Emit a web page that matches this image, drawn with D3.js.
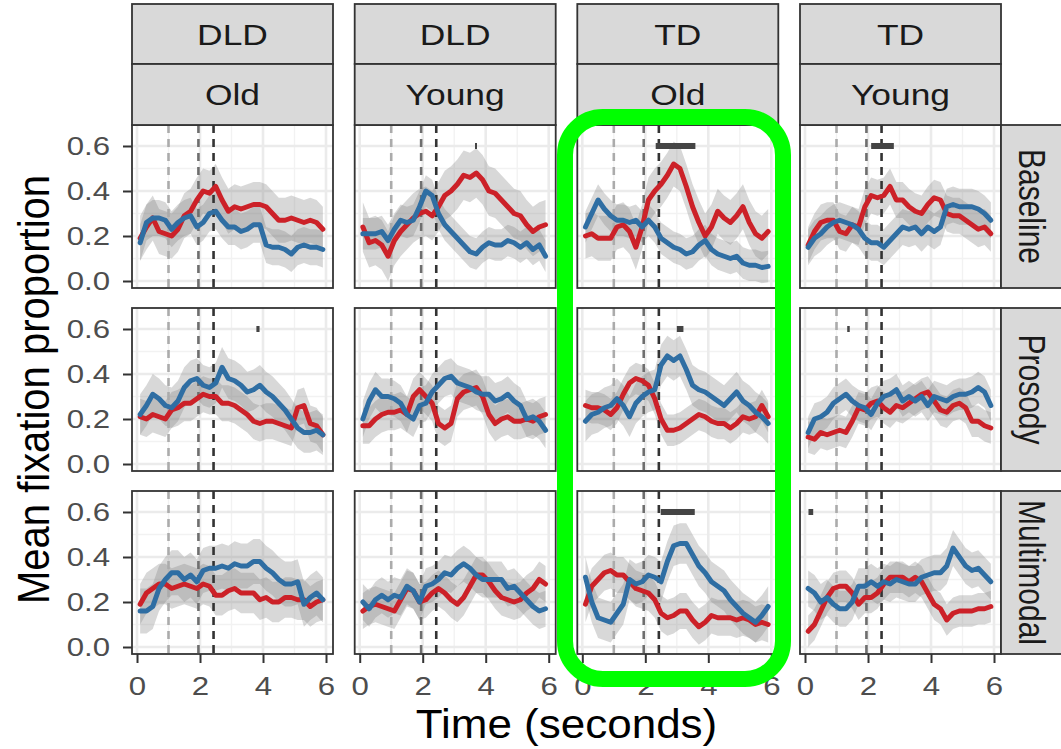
<!DOCTYPE html>
<html>
<head>
<meta charset="utf-8">
<script src="https://cdn.jsdelivr.net/npm/d3@7"></script>
<style>
  body { margin: 0; background: #fff; }
  text { font-family: "Liberation Sans", Arial, Helvetica, sans-serif; }
</style>
</head>
<body>
<div id="chart"></div>
<script>
// facets
const groups = ["DLD", "DLD", "TD", "TD"];
const ages = ["Old", "Young", "Old", "Young"];
const conditions = ["Baseline", "Prosody", "Multimodal"];

const times = [0.1, 0.3, 0.5, 0.7, 0.9, 1.1, 1.3, 1.5, 1.7, 1.9, 2.1, 2.3, 2.5, 2.7, 2.9,
               3.1, 3.3, 3.5, 3.7, 3.9, 4.1, 4.3, 4.5, 4.7, 4.9, 5.1, 5.3, 5.5, 5.7, 5.9];

const xTicks = [0, 2, 4, 6];
const yTicks = [0, 0.2, 0.4, 0.6];
const eventTimes = [1.0, 1.95, 2.43];

// Baseline
const dldOldBaselineRed = [0.19,0.24,0.28,0.22,0.21,0.20,0.23,0.29,0.31,0.36,0.40,0.39,0.42,0.36,0.31,0.33,0.32,0.33,0.34,0.34,0.33,0.30,0.27,0.27,0.28,0.27,0.26,0.27,0.26,0.23];
const dldOldBaselineBlue = [0.17,0.26,0.28,0.28,0.27,0.23,0.26,0.28,0.29,0.24,0.26,0.30,0.31,0.27,0.24,0.24,0.22,0.23,0.25,0.25,0.16,0.15,0.15,0.14,0.12,0.15,0.16,0.15,0.15,0.14];
const dldYoungBaselineRed = [0.24,0.17,0.18,0.16,0.11,0.18,0.22,0.25,0.28,0.30,0.31,0.29,0.33,0.38,0.40,0.43,0.47,0.46,0.48,0.45,0.40,0.39,0.36,0.33,0.30,0.29,0.25,0.22,0.24,0.25];
const dldYoungBaselineBlue = [0.21,0.21,0.21,0.22,0.18,0.23,0.27,0.26,0.27,0.33,0.40,0.38,0.30,0.25,0.22,0.19,0.16,0.13,0.12,0.15,0.17,0.16,0.16,0.18,0.17,0.15,0.17,0.14,0.16,0.11];
const tdOldBaselineRed = [0.20,0.21,0.19,0.19,0.19,0.24,0.25,0.22,0.15,0.24,0.36,0.40,0.43,0.47,0.52,0.50,0.42,0.33,0.26,0.20,0.24,0.31,0.28,0.26,0.29,0.33,0.26,0.21,0.19,0.22];
const tdOldBaselineBlue = [0.24,0.30,0.36,0.32,0.29,0.27,0.27,0.26,0.27,0.24,0.27,0.24,0.19,0.17,0.15,0.14,0.12,0.13,0.16,0.18,0.14,0.12,0.11,0.10,0.11,0.08,0.07,0.07,0.06,0.065];
const tdYoungBaselineRed = [0.16,0.22,0.26,0.27,0.27,0.22,0.21,0.25,0.24,0.33,0.38,0.37,0.38,0.42,0.36,0.36,0.33,0.31,0.30,0.34,0.37,0.36,0.30,0.29,0.29,0.27,0.25,0.23,0.24,0.21];
const tdYoungBaselineBlue = [0.15,0.19,0.21,0.24,0.26,0.27,0.26,0.25,0.23,0.19,0.17,0.17,0.15,0.18,0.21,0.24,0.23,0.24,0.21,0.24,0.22,0.24,0.33,0.34,0.33,0.33,0.33,0.32,0.30,0.27];

// Prosody
const dldOldProsodyRed = [0.21,0.20,0.22,0.21,0.20,0.24,0.25,0.27,0.27,0.29,0.31,0.30,0.30,0.27,0.27,0.26,0.24,0.22,0.19,0.18,0.19,0.19,0.18,0.17,0.16,0.25,0.26,0.18,0.17,0.13];
const dldOldProsodyBlue = [0.22,0.26,0.31,0.29,0.26,0.25,0.28,0.34,0.37,0.38,0.35,0.34,0.36,0.43,0.38,0.37,0.35,0.32,0.33,0.35,0.32,0.30,0.27,0.24,0.20,0.16,0.14,0.14,0.15,0.13];
const dldYoungProsodyRed = [0.17,0.17,0.20,0.22,0.23,0.23,0.24,0.22,0.30,0.33,0.30,0.27,0.18,0.16,0.18,0.29,0.32,0.33,0.34,0.30,0.22,0.18,0.20,0.21,0.19,0.19,0.20,0.19,0.21,0.22];
const dldYoungProsodyBlue = [0.20,0.28,0.33,0.30,0.30,0.29,0.27,0.22,0.20,0.26,0.27,0.32,0.35,0.38,0.39,0.36,0.35,0.34,0.32,0.31,0.31,0.28,0.29,0.31,0.28,0.26,0.20,0.21,0.19,0.15];
const tdOldProsodyRed = [0.26,0.25,0.25,0.24,0.22,0.25,0.31,0.36,0.38,0.37,0.35,0.29,0.20,0.15,0.15,0.16,0.18,0.20,0.22,0.21,0.19,0.18,0.18,0.16,0.18,0.21,0.20,0.21,0.26,0.21];
const tdOldProsodyBlue = [0.19,0.22,0.23,0.25,0.26,0.29,0.26,0.21,0.27,0.30,0.32,0.33,0.44,0.48,0.46,0.48,0.42,0.35,0.33,0.32,0.30,0.28,0.26,0.29,0.32,0.28,0.26,0.23,0.21,0.18];
const tdYoungProsodyRed = [0.12,0.11,0.14,0.13,0.14,0.15,0.14,0.19,0.25,0.24,0.27,0.28,0.25,0.23,0.26,0.25,0.27,0.29,0.31,0.32,0.28,0.24,0.23,0.26,0.27,0.25,0.19,0.19,0.17,0.16];
const tdYoungProsodyBlue = [0.14,0.20,0.21,0.23,0.27,0.29,0.31,0.28,0.26,0.25,0.22,0.27,0.30,0.31,0.33,0.28,0.30,0.28,0.30,0.26,0.30,0.29,0.28,0.30,0.31,0.31,0.32,0.34,0.32,0.26];

// Multimodal
const dldOldMultiRed = [0.19,0.24,0.26,0.28,0.28,0.26,0.27,0.28,0.27,0.26,0.28,0.27,0.23,0.23,0.25,0.26,0.24,0.24,0.24,0.21,0.22,0.20,0.20,0.22,0.22,0.21,0.21,0.18,0.20,0.21];
const dldOldMultiBlue = [0.16,0.16,0.18,0.26,0.30,0.33,0.33,0.30,0.32,0.29,0.34,0.35,0.35,0.36,0.35,0.37,0.36,0.36,0.38,0.38,0.35,0.33,0.30,0.28,0.28,0.29,0.19,0.22,0.24,0.21];
const dldYoungMultiRed = [0.16,0.18,0.19,0.18,0.17,0.16,0.21,0.26,0.25,0.20,0.21,0.24,0.26,0.24,0.21,0.19,0.22,0.27,0.32,0.32,0.29,0.25,0.22,0.21,0.20,0.21,0.24,0.26,0.30,0.28];
const dldYoungMultiBlue = [0.20,0.17,0.21,0.23,0.21,0.23,0.22,0.27,0.25,0.20,0.27,0.28,0.30,0.33,0.32,0.35,0.37,0.35,0.32,0.30,0.30,0.30,0.30,0.26,0.27,0.24,0.21,0.18,0.16,0.17];
const tdOldMultiRed = [0.19,0.27,0.30,0.33,0.34,0.32,0.32,0.29,0.26,0.25,0.24,0.21,0.15,0.13,0.14,0.16,0.16,0.12,0.09,0.11,0.14,0.13,0.13,0.13,0.12,0.13,0.12,0.10,0.11,0.10];
const tdOldMultiBlue = [0.31,0.20,0.13,0.12,0.11,0.15,0.19,0.30,0.28,0.29,0.32,0.31,0.29,0.38,0.45,0.46,0.46,0.41,0.36,0.33,0.29,0.27,0.25,0.21,0.18,0.15,0.13,0.11,0.14,0.18];
const tdYoungMultiRed = [0.07,0.10,0.16,0.22,0.26,0.27,0.27,0.24,0.19,0.22,0.22,0.24,0.28,0.31,0.31,0.31,0.29,0.31,0.29,0.24,0.19,0.17,0.12,0.15,0.16,0.16,0.16,0.17,0.17,0.18];
const tdYoungMultiBlue = [0.26,0.24,0.20,0.22,0.19,0.17,0.17,0.20,0.27,0.27,0.29,0.27,0.29,0.28,0.30,0.29,0.28,0.28,0.31,0.32,0.33,0.33,0.36,0.44,0.40,0.36,0.34,0.35,0.32,0.29];

// typical standard error of each curve, one per column
const seRedBaseline = [0.10, 0.11, 0.10, 0.08];
const seBlueBaseline = [0.08, 0.07, 0.07, 0.08];
const seRedProsody = [0.08, 0.08, 0.07, 0.07];
const seBlueProsody = [0.09, 0.08, 0.09, 0.07];
const seRedMulti = [0.09, 0.08, 0.08, 0.07];
const seBlueMulti = [0.10, 0.08, 0.09, 0.08];

// significant windows (seconds)
const sigBars = [
  {cond: "Baseline", col: 1, from: 3.66, to: 3.72},
  {cond: "Baseline", col: 2, from: 2.33, to: 3.59},
  {cond: "Baseline", col: 3, from: 2.10, to: 2.82},
  {cond: "Prosody", col: 0, from: 3.79, to: 3.89},
  {cond: "Prosody", col: 2, from: 3.00, to: 3.21},
  {cond: "Prosody", col: 3, from: 1.34, to: 1.42},
  {cond: "Multimodal", col: 2, from: 2.49, to: 3.57},
  {cond: "Multimodal", col: 3, from: 0.11, to: 0.26}
];

const redByCond = {
  Baseline: [dldOldBaselineRed, dldYoungBaselineRed, tdOldBaselineRed, tdYoungBaselineRed],
  Prosody: [dldOldProsodyRed, dldYoungProsodyRed, tdOldProsodyRed, tdYoungProsodyRed],
  Multimodal: [dldOldMultiRed, dldYoungMultiRed, tdOldMultiRed, tdYoungMultiRed]
};
const blueByCond = {
  Baseline: [dldOldBaselineBlue, dldYoungBaselineBlue, tdOldBaselineBlue, tdYoungBaselineBlue],
  Prosody: [dldOldProsodyBlue, dldYoungProsodyBlue, tdOldProsodyBlue, tdYoungProsodyBlue],
  Multimodal: [dldOldMultiBlue, dldYoungMultiBlue, tdOldMultiBlue, tdYoungMultiBlue]
};
const seRedByCond = {Baseline: seRedBaseline, Prosody: seRedProsody, Multimodal: seRedMulti};
const seBlueByCond = {Baseline: seBlueBaseline, Prosody: seBlueProsody, Multimodal: seBlueMulti};

const width = 1061, height = 749;
const colLeft = [132, 354.7, 577.3, 800];
const rowTop = [125, 308, 491];
const panelW = 201, panelH = 163;
const redColor = "#cc2128", blueColor = "#2f6ea3";
const eventColors = ["#ababab", "#6e6e6e", "#333333"];
const widen = 1.2; // the source glyphs are drawn wider than they are tall

const svg = d3.select("#chart")
  .append("svg")
  .attr("width", width)
  .attr("height", height);

const defs = svg.append("defs");

// stretch horizontal text along its baseline
function stretch(sel, f) {
  sel.each(function () {
    const len = this.getComputedTextLength();
    d3.select(this).attr("textLength", len * f).attr("lengthAdjust", "spacingAndGlyphs");
  });
}

function makeX(c) {
  return d3.scaleLinear().domain([-0.159, 6.222]).range([colLeft[c], colLeft[c] + panelW]);
}
function makeY(r) {
  return d3.scaleLinear().domain([-0.0311, 0.6933]).range([rowTop[r] + panelH, rowTop[r]]);
}

conditions.forEach(function (cond, r) {
  const y = makeY(r);
  groups.forEach(function (grp, c) {
    const x = makeX(c);
    const clipId = "clip-" + r + "-" + c;
    defs.append("clipPath").attr("id", clipId)
      .append("rect")
      .attr("x", colLeft[c]).attr("y", rowTop[r])
      .attr("width", panelW).attr("height", panelH);

    const g = svg.append("g").attr("clip-path", "url(#" + clipId + ")");

    // grid
    g.selectAll(".gx-minor").data([1, 3, 5]).enter().append("line")
      .attr("x1", d => x(d)).attr("x2", d => x(d))
      .attr("y1", rowTop[r]).attr("y2", rowTop[r] + panelH)
      .attr("stroke", "#f2f2f2").attr("stroke-width", 1.4);
    g.selectAll(".gy-minor").data([0.1, 0.3, 0.5]).enter().append("line")
      .attr("x1", colLeft[c]).attr("x2", colLeft[c] + panelW)
      .attr("y1", d => y(d)).attr("y2", d => y(d))
      .attr("stroke", "#f2f2f2").attr("stroke-width", 1.4);
    g.selectAll(".gx").data(xTicks).enter().append("line")
      .attr("x1", d => x(d)).attr("x2", d => x(d))
      .attr("y1", rowTop[r]).attr("y2", rowTop[r] + panelH)
      .attr("stroke", "#ebebeb").attr("stroke-width", 2.6);
    g.selectAll(".gy").data(yTicks).enter().append("line")
      .attr("x1", colLeft[c]).attr("x2", colLeft[c] + panelW)
      .attr("y1", d => y(d)).attr("y2", d => y(d))
      .attr("stroke", "#ebebeb").attr("stroke-width", 2.6);

    const red = times.map((t, i) => ({t: t, v: redByCond[cond][c][i], se: seRedByCond[cond][c]}));
    const blue = times.map((t, i) => ({t: t, v: blueByCond[cond][c][i], se: seBlueByCond[cond][c]}));

    const area = d3.area()
      .x(d => x(d.t))
      .y0(d => y(d.v - d.se))
      .y1(d => y(d.v + d.se));
    const line = d3.line()
      .x(d => x(d.t))
      .y(d => y(d.v));

    [red, blue].forEach(function (s) {
      g.append("path").datum(s)
        .attr("d", area)
        .attr("fill", "#7f7f7f")
        .attr("fill-opacity", 0.3);
    });

    // event markers
    g.selectAll(".ev").data(eventTimes).enter().append("line")
      .attr("x1", d => x(d)).attr("x2", d => x(d))
      .attr("y1", rowTop[r]).attr("y2", rowTop[r] + panelH)
      .attr("stroke", (d, i) => eventColors[i])
      .attr("stroke-width", 2.6)
      .attr("stroke-dasharray", "8,6");

    g.append("path").datum(red)
      .attr("d", line)
      .attr("fill", "none").attr("stroke", redColor)
      .attr("stroke-width", 5).attr("stroke-linejoin", "round").attr("stroke-linecap", "round");
    g.append("path").datum(blue)
      .attr("d", line)
      .attr("fill", "none").attr("stroke", blueColor)
      .attr("stroke-width", 5).attr("stroke-linejoin", "round").attr("stroke-linecap", "round");

    // significance windows
    g.selectAll(".sig").data(sigBars.filter(b => b.cond === cond && b.col === c)).enter()
      .append("rect")
      .attr("x", d => x(d.from))
      .attr("width", d => Math.max(2, x(d.to) - x(d.from)))
      .attr("y", y(0.6) - 3)
      .attr("height", 6)
      .attr("fill", "#444");

    // border
    svg.append("rect")
      .attr("x", colLeft[c]).attr("y", rowTop[r])
      .attr("width", panelW).attr("height", panelH)
      .attr("fill", "none").attr("stroke", "#333").attr("stroke-width", 1.8);

    // axes
    if (c === 0) {
      const ax = svg.append("g")
        .attr("transform", "translate(" + colLeft[c] + ",0)")
        .call(d3.axisLeft(y).tickValues(yTicks).tickFormat(d3.format(".1f")).tickSize(9).tickPadding(13));
      ax.select(".domain").remove();
      ax.selectAll("line").attr("stroke", "#333").attr("stroke-width", 2);
      ax.selectAll("text").attr("fill", "#4d4d4d").style("font-size", "26px")
        .style("font-family", "'Liberation Sans', Arial, sans-serif");
      stretch(ax.selectAll("text"), widen);
    }
    if (r === conditions.length - 1) {
      const ax = svg.append("g")
        .attr("transform", "translate(0," + (rowTop[r] + panelH) + ")")
        .call(d3.axisBottom(x).tickValues(xTicks).tickFormat(d3.format("d")).tickSize(9).tickPadding(14));
      ax.select(".domain").remove();
      ax.selectAll("line").attr("stroke", "#333").attr("stroke-width", 2);
      ax.selectAll("text").attr("fill", "#4d4d4d").style("font-size", "26px")
        .style("font-family", "'Liberation Sans', Arial, sans-serif");
      stretch(ax.selectAll("text"), widen);
    }
  });
});

// top strips
groups.forEach(function (grp, c) {
  const labels = [grp, ages[c]];
  const tops = [4, 64];
  const hs = [60, 61];
  labels.forEach(function (lab, k) {
    svg.append("rect")
      .attr("x", colLeft[c]).attr("y", tops[k])
      .attr("width", panelW).attr("height", hs[k])
      .attr("fill", "#d9d9d9").attr("stroke", "#333").attr("stroke-width", 1.8);
    const t = svg.append("text")
      .attr("x", colLeft[c] + panelW / 2).attr("y", tops[k] + hs[k] / 2)
      .attr("text-anchor", "middle").attr("dominant-baseline", "central")
      .attr("fill", "#1a1a1a").style("font-size", "30px")
      .text(lab);
    stretch(t, 1.18);
  });
});

// right strips
conditions.forEach(function (cond, r) {
  const sx = colLeft[3] + panelW;
  svg.append("rect")
    .attr("x", sx).attr("y", rowTop[r])
    .attr("width", 61).attr("height", panelH)
    .attr("fill", "#d9d9d9").attr("stroke", "#333").attr("stroke-width", 1.8);
  svg.append("text")
    .attr("transform", "translate(" + (sx + 30) + "," + (rowTop[r] + panelH / 2) + ") scale(" + widen + ",1) rotate(90)")
    .attr("text-anchor", "middle").attr("dominant-baseline", "central")
    .attr("fill", "#1a1a1a").style("font-size", "30px")
    .text(cond);
});

// axis titles
svg.append("text")
  .attr("transform", "translate(34," + (rowTop[0] + (rowTop[2] + panelH - rowTop[0]) / 2) + ") scale(1.12,1) rotate(-90)")
  .attr("text-anchor", "middle").attr("dominant-baseline", "central")
  .attr("fill", "#000").style("font-size", "40px")
  .text("Mean fixation proportion");

const xt = svg.append("text")
  .attr("x", (colLeft[0] + colLeft[3] + panelW) / 2).attr("y", 738)
  .attr("text-anchor", "middle")
  .attr("fill", "#000").style("font-size", "40px")
  .text("Time (seconds)");
stretch(xt, 1.1);

// highlight box around TD / Old
svg.append("rect")
  .attr("x", 565).attr("y", 117)
  .attr("width", 218).attr("height", 562)
  .attr("rx", 38).attr("ry", 38)
  .attr("fill", "none").attr("stroke", "#00ff00").attr("stroke-width", 16);
</script>
</body>
</html>
